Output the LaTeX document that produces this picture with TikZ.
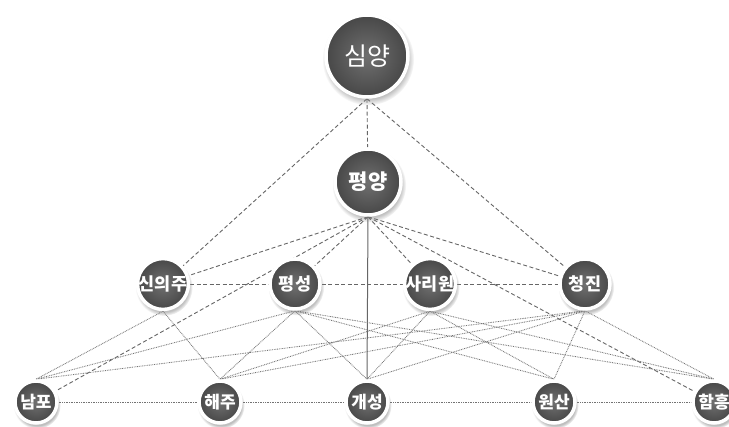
\documentclass[tikz,border=0pt]{standalone}
\usepackage{fontspec}
\newfontfamily\kr{Noto Sans CJK KR}
\usetikzlibrary{shadows}
\pgfdeclarelayer{paper}
\pgfdeclarelayer{edges}
\pgfsetlayers{paper,edges,main}
\begin{document}
\begin{tikzpicture}[x=1pt,y=-1pt,
  city/.style={circle, draw=white, line width=3.5pt, inner sep=0pt,
    shading=radial, inner color=black!56, outer color=black!72,
    text=white, font=\kr\bfseries,
    circular drop shadow={shadow xshift=1pt, shadow yshift=-3pt, shadow scale=1.12, opacity=0.5}},
  topcity/.style={city, minimum size=82pt, font=\kr\fontsize{25}{25}\selectfont},
  capcity/.style={city, minimum size=66pt, font=\kr\bfseries\fontsize{21}{21}\selectfont},
  midcity/.style={city, minimum size=50pt, font=\kr\bfseries\fontsize{17.5}{17.5}\selectfont},
  lowcity/.style={city, minimum size=42pt, font=\kr\bfseries\fontsize{17}{17}\selectfont},
  dsh/.style={draw=black!60, line width=0.9pt, dash pattern=on 4pt off 2.5pt},
  dtt/.style={draw=black!55, line width=0.85pt, dash pattern=on 0.8pt off 0.9pt},
  sld/.style={draw=black!60, line width=1pt}]
\begin{pgfonlayer}{paper}
\fill[white] (0,0) rectangle (729,427);
\end{pgfonlayer}
\useasboundingbox (0,0) rectangle (729,427);
\begin{scope}
\clip (0,0) rectangle (729,427);
\node[topcity] (sy) at (367,56) {심양};
\node[capcity] (py) at (368,182) {평양};
\node[midcity] (sn) at (163,284) {신의주};
\node[midcity] (ps) at (295,284) {평성};
\node[midcity] (sr) at (430,284) {사리원};
\node[midcity] (cj) at (585,284) {청진};
\node[lowcity] (np) at (36,402) {남포};
\node[lowcity] (hj) at (220,402) {해주};
\node[lowcity] (ks) at (367,402) {개성};
\node[lowcity] (ws) at (554,402) {원산};
\node[lowcity] (hh) at (714,402) {함흥};
\begin{pgfonlayer}{edges}
  \path[dsh] (sy.south) -- (py);
  \path[dsh] (sy.south) -- (sn);
  \path[dsh] (sy.south) -- (cj);
  \path[dsh] (py.south) -- (sn);
  \path[dsh] (py.south) -- (ps);
  \path[dsh] (py.south) -- (sr);
  \path[dsh] (py.south) -- (cj);
  \path[dsh] (py.south) -- (np);
  \path[dsh] (py.south) -- (hh);
  \path[sld] (py.south) -- (ks.north);
  \path[dsh] (sn) -- (ps) -- (sr) -- (cj);
  \path[dtt] (np) -- (hj) -- (ks) -- (ws) -- (hh);
  \path[dtt] (sn.south) -- (np.north);
  \path[dtt] (sn.south) -- (hj.north);
  \path[dtt] (ps.south) -- (np.north);
  \path[dtt] (ps.south) -- (hj.north);
  \path[dtt] (ps.south) -- (ks.north);
  \path[dtt] (ps.south) -- (ws.north);
  \path[dtt] (ps.south) -- (hh.north);
  \path[dtt] (sr.south) -- (hj.north);
  \path[dtt] (sr.south) -- (ks.north);
  \path[dtt] (sr.south) -- (ws.north);
  \path[dtt] (sr.south) -- (hh.north);
  \path[dtt] (cj.south) -- (np.north);
  \path[dtt] (cj.south) -- (hj.north);
  \path[dtt] (cj.south) -- (ks.north);
  \path[dtt] (cj.south) -- (ws.north);
  \path[dtt] (cj.south) -- (hh.north);
\end{pgfonlayer}
\end{scope}
\end{tikzpicture}
\end{document}
